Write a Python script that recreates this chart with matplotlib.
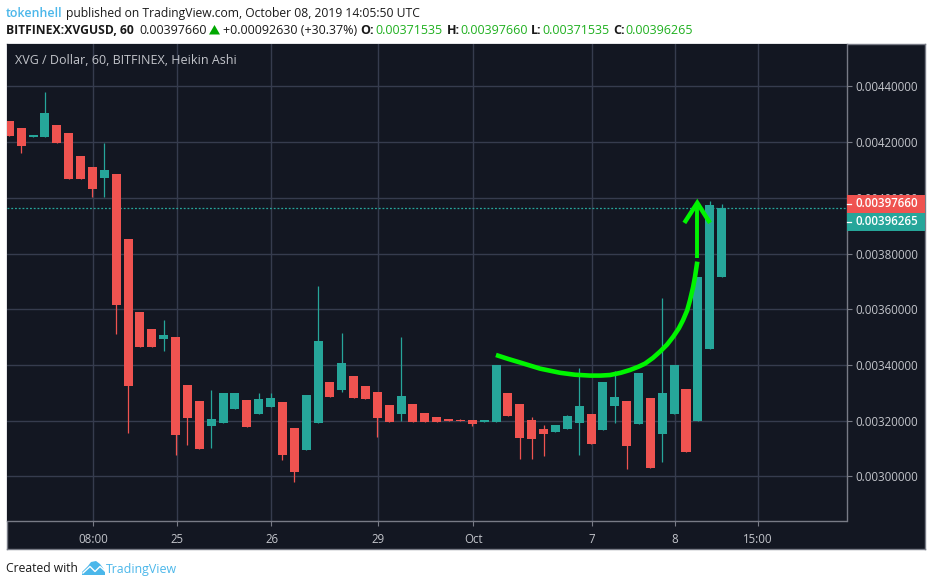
import numpy as np
import matplotlib
matplotlib.use('Agg')
import matplotlib.pyplot as plt
from matplotlib.patches import Polygon, Rectangle

plt.rcParams['font.family'] = ['Open Sans', 'Noto Sans', 'DejaVu Sans']

# precios en unidades de 0.00001
open_p = [427.6, 425.1, 421.9, 421.9, 426.2, 423.3, 415.0, 411.1, 407.1, 408.6,
          385.2, 359.0, 352.9, 349.3, 350.0, 332.8, 327.1, 318.1, 319.2, 324.2,
          327.4, 322.4, 324.9, 326.7, 317.4, 309.5, 319.2, 333.9, 331.0, 336.0,
          332.5, 330.3, 325.6, 322.4, 326.0, 322.8, 321.3, 320.6, 320.2, 320.2,
          319.5, 319.5, 329.9, 326.0, 320.2, 317.0, 315.9, 317.0, 319.2, 322.4,
          316.7, 325.3, 327.1, 318.8, 328.1, 315.2, 322.4, 331.4, 319.9, 345.7, 371.5]
close_p = [422.2, 418.6, 422.6, 430.5, 419.7, 406.8, 406.8, 403.2, 410.0, 361.5,
           332.5, 346.5, 346.5, 350.8, 314.9, 321.0, 309.8, 320.6, 329.9, 329.9,
           317.7, 327.8, 328.1, 307.7, 301.6, 329.2, 348.6, 328.5, 340.7, 328.1,
           327.8, 321.0, 319.5, 328.9, 319.5, 319.5, 319.5, 319.9, 319.9, 318.8,
           320.2, 340.0, 321.7, 313.8, 313.4, 315.2, 318.5, 321.7, 325.3, 311.6,
           333.9, 328.5, 310.9, 337.1, 303.0, 329.9, 340.0, 308.8, 371.6, 397.5, 396.3]
high_p = [427.6, 425.1, 422.6, 438.0, 426.2, 423.3, 415.0, 411.1, 419.7, 408.6,
          385.2, 359.0, 352.9, 356.1, 350.0, 332.8, 327.1, 331.0, 329.9, 329.9,
          327.4, 329.9, 329.9, 326.7, 317.4, 329.2, 368.4, 333.9, 351.5, 336.0,
          332.5, 330.3, 325.6, 350.0, 326.0, 322.8, 321.3, 320.6, 320.6, 320.2,
          320.2, 340.0, 329.9, 326.0, 321.3, 318.5, 318.5, 322.0, 338.9, 322.4,
          333.9, 337.8, 327.1, 337.1, 328.1, 364.0, 340.0, 331.4, 371.6, 398.9, 397.7]
low_p = [422.2, 416.1, 421.9, 421.9, 419.7, 406.8, 406.8, 400.3, 400.3, 351.1,
         315.6, 346.5, 346.5, 345.0, 307.7, 311.3, 309.8, 310.2, 319.2, 324.2,
         317.7, 322.4, 324.9, 305.9, 298.0, 309.5, 319.2, 328.5, 330.3, 328.1,
         327.8, 314.1, 319.5, 319.9, 319.5, 319.5, 319.5, 319.9, 319.9, 318.1,
         319.5, 319.5, 321.7, 306.2, 306.2, 307.3, 315.9, 317.0, 307.7, 311.6,
         316.7, 319.2, 302.7, 318.8, 303.0, 305.2, 322.4, 308.8, 319.9, 345.7, 371.5]

time_idx = [7, 14, 22, 31, 39, 49, 56, 63]
time_labels = ['08:00', '25', '26', '29', 'Oct', '7', '8', '15:00']
price_ticks = [300, 320, 340, 360, 380, 400, 420, 440]
last_close = 396.265
last_high = 397.660

# flecha verde dibujada a mano sobre el grafico
curve_idx = [40.99, 42.0, 43.02, 44.70, 46.39, 47.65, 48.91, 49.8, 50.60, 51.5, 52.28, 53.0, 53.55, 54.2,
             54.81, 55.4, 55.93, 56.4, 56.75, 57.1, 57.34, 57.6, 57.76, 57.95]
curve_val = [343.6, 342.2, 340.9, 338.7, 337.2, 336.5, 336.2, 336.2, 336.4, 337.2, 338.2, 339.4, 340.5, 342.5,
             344.8, 347.3, 350.2, 353.2, 356.1, 359.6, 363.3, 368.0, 371.7, 377.1]
shaft_idx = [57.95, 57.95]
shaft_val = [378.5, 398.2]
head_idx = [56.86, 57.95, 59.02]
head_val = [391.0, 398.2, 391.0]

DARK = '#131722'
GRID = '#363c4e'
FRAME = '#787b86'
RED = '#ef5350'
TEAL = '#26a69a'
BLUE = '#4bb7ea'
GREEN = '#1fb01f'
TXT = '#c3c5cb'
INK = '#1a1a1a'

W, H = 932, 586
scale = 1e-5


def rect_px(x0, y0, x1, y1):
    return [x0 / W, 1 - y1 / H, (x1 - x0) / W, (y1 - y0) / H]


fig = plt.figure(figsize=(W / 100, H / 100), dpi=100, facecolor='white')

# fondo con el marco exterior
bg = fig.add_axes(rect_px(6.5, 43.5, 925, 549), facecolor=DARK)
bg.set_xticks([])
bg.set_yticks([])
for s in bg.spines.values():
    s.set_color(FRAME)
    s.set_linewidth(1.0)

ax = fig.add_axes(rect_px(7, 43.5, 846.5, 521), facecolor=DARK)
op = np.array(open_p) * scale
cl = np.array(close_p) * scale
hi = np.array(high_p) * scale
lo = np.array(low_p) * scale
idx = np.arange(len(op))
cols = [TEAL if c >= o else RED for o, c in zip(op, cl)]

ax.vlines(idx, lo, hi, colors=cols, linewidth=0.9, zorder=3)
ax.bar(idx, np.abs(cl - op), bottom=np.minimum(op, cl), width=0.76, color=cols, zorder=4)
ax.axhline(last_close * scale, color=TEAL, linewidth=0.9, linestyle=(0, (1.5, 1.5)), zorder=2)

ax.plot(curve_idx, np.array(curve_val) * scale, color='#00f500', linewidth=3.3, zorder=6,
        solid_capstyle='butt', solid_joinstyle='round')
ax.plot(shaft_idx, np.array(shaft_val) * scale, color='#00f500', linewidth=2.8, zorder=6,
        solid_capstyle='butt')
ax.plot(head_idx, np.array(head_val) * scale, color='#00f500', linewidth=3.2, zorder=6,
        solid_capstyle='butt', solid_joinstyle='miter')

ax.set_xlim(-0.2, 70.52)
ax.set_ylim(284.0 * scale, 455.4 * scale)
ax.set_xticks(np.array(time_idx) + 0.08)
ax.set_xticklabels(time_labels)
ax.set_yticks(np.array(price_ticks) * scale)
ax.set_yticklabels(['%.8f' % (p * scale) for p in price_ticks])
ax.yaxis.tick_right()
ax.grid(True, color=GRID, linewidth=1.0, zorder=1)
ax.set_axisbelow(True)
ax.tick_params(axis='x', colors=FRAME, length=3.5, width=0.8, pad=5, labelcolor=TXT, labelsize=8.3)
ax.tick_params(axis='y', colors=FRAME, length=3.5, width=0.8, pad=3, labelcolor=TXT, labelsize=8.3)
for name in ['top', 'left']:
    ax.spines[name].set_visible(False)
for name in ['right', 'bottom']:
    ax.spines[name].set_color(FRAME)
    ax.spines[name].set_linewidth(1.0)

# capa en pixeles para textos, etiquetas de precio y logo
ov = fig.add_axes([0, 0, 1, 1], zorder=10)
ov.set_xlim(0, W)
ov.set_ylim(H, 0)
ov.axis('off')
ov.patch.set_alpha(0)

ov.text(15, 60.5, 'XVG / Dollar, 60, BITFINEX, Heikin Ashi', color=TXT, fontsize=9, va='center')

ov.add_patch(Rectangle((846.5, 195), 78, 18, color=RED, linewidth=0))
ov.add_patch(Rectangle((846.5, 213), 78, 18, color=TEAL, linewidth=0))
ov.plot([846.5, 850.5], [204, 204], color='white', linewidth=0.9)
ov.plot([846.5, 850.5], [222, 222], color='white', linewidth=0.9)
ov.text(855, 203.7, '%.8f' % (last_high * scale), color='white', fontsize=8.3, va='center', fontweight='semibold')
ov.text(855, 221.7, '%.8f' % (last_close * scale), color='white', fontsize=8.3, va='center', fontweight='semibold')

# encabezado
ov.text(6, 17, 'tokenhell', color=BLUE, fontsize=8.9, fontweight='semibold')
ov.text(65.5, 17, 'published on TradingView.com, October 08, 2019 14:05:50 UTC', color=INK, fontsize=8.7)
ov.text(6.5, 33.5, 'BITFINEX:XVGUSD, 60', color=INK, fontsize=8.7, fontweight='bold')
ov.text(139, 33.5, '0.00397660', color=INK, fontsize=9)
ov.add_patch(Polygon([[209, 34.5], [214.5, 25], [220, 34.5]], color='#00a800', linewidth=0))
ov.text(223, 33.5, '+0.00092630 (+30.37%)', color=INK, fontsize=9)
for lab, lx, val, vx in [('O:', 360.7, '0.00371535', 375), ('H:', 446.7, '0.00397660', 460),
                         ('L:', 531, '0.00371535', 542), ('C:', 613, '0.00396265', 625.3)]:
    ov.text(lx, 33.5, lab, color=INK, fontsize=9, fontweight='bold')
    ov.text(vx, 33.5, val, color=GREEN, fontsize=9)

# pie
ov.text(6.5, 572.5, 'Created with', color=INK, fontsize=8.7)
ov.add_patch(Polygon([[82, 575], [82, 572], [88, 566], [91, 562], [96, 561], [100, 564],
                      [103, 568], [105, 572], [105, 575]], color=BLUE, linewidth=0))
ov.plot([83, 90, 95, 100, 105], [573, 566.5, 571.5, 566.5, 571], color='white', linewidth=1.0)
ov.text(106, 572.5, 'TradingView', color=BLUE, fontsize=8.9)

fig.savefig('out.png', dpi=100, facecolor='white')
